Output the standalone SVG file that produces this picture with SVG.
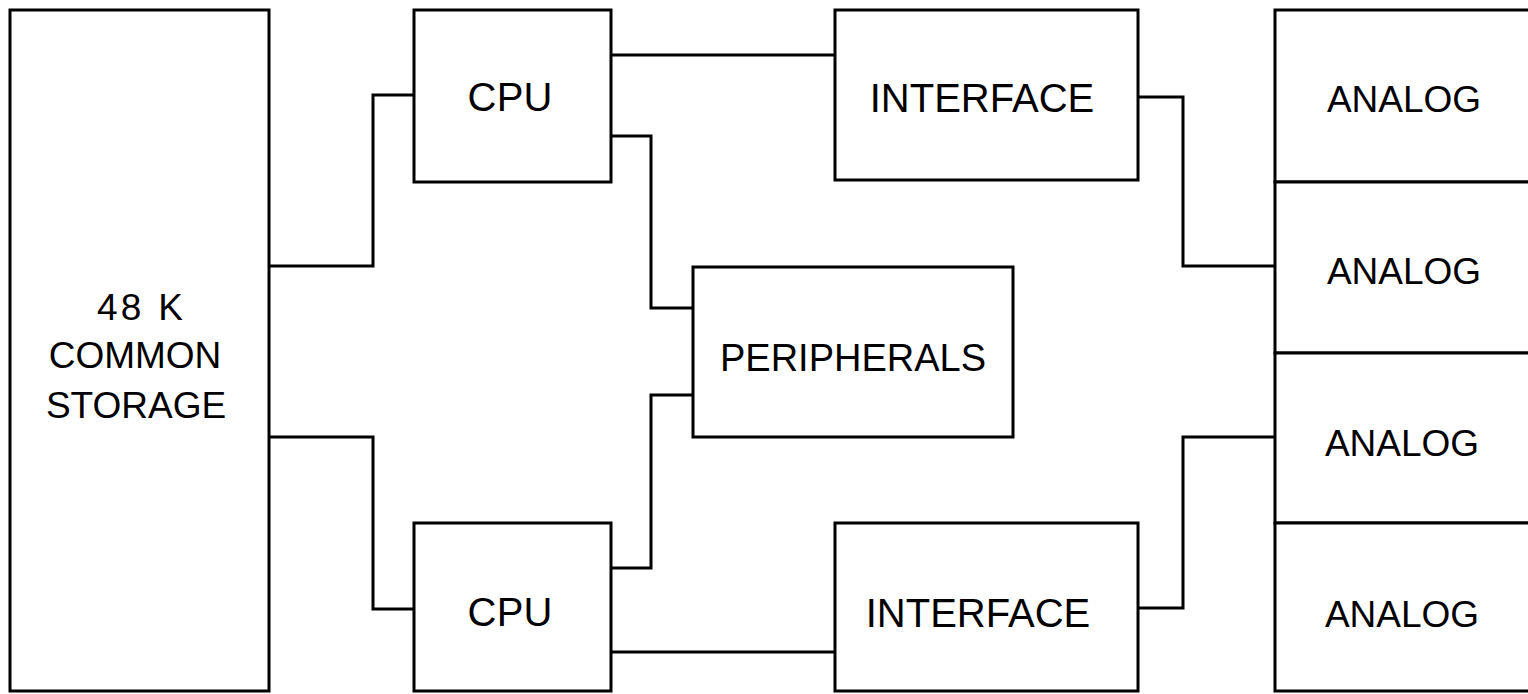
<svg xmlns="http://www.w3.org/2000/svg" width="1528" height="694" viewBox="0 0 1528 694">
<style>
.box{fill:#fff;stroke:#000;stroke-width:3}
.ln{fill:none;stroke:#000;stroke-width:3;stroke-linejoin:miter}
.t{font-family:"Liberation Sans","DejaVu Sans",sans-serif;font-size:40px;fill:#000;text-anchor:middle}
.s{font-size:37px}
</style>
<rect width="1528" height="694" fill="#fff"/>
<g id="connectors">
<polyline class="ln" points="269,266 373,266 373,95 414,95"/>
<polyline class="ln" points="269,437 373,437 373,609 414,609"/>
<polyline class="ln" points="611,55 835,55"/>
<polyline class="ln" points="611,136 651,136 651,308 693,308"/>
<polyline class="ln" points="693,395 651,395 651,568 611,568"/>
<polyline class="ln" points="611,652 835,652"/>
<polyline class="ln" points="1138,97 1183,97 1183,266 1275,266"/>
<polyline class="ln" points="1138,608 1183,608 1183,437 1275,437"/>
</g>
<g id="storage">
<rect class="box" x="10" y="10" width="259" height="681"/>
<text class="t s" x="140" y="320" textLength="86">48 K</text>
<text class="t s" x="135" y="368">COMMON</text>
<text class="t s" x="136" y="418">STORAGE</text>
</g>
<g id="cpu1">
<rect class="box" x="414" y="10" width="197" height="172"/>
<text class="t" x="510" y="111" textLength="85">CPU</text>
</g>
<g id="cpu2">
<rect class="box" x="414" y="523" width="197" height="168"/>
<text class="t" x="510" y="626" textLength="85">CPU</text>
</g>
<g id="interface1">
<rect class="box" x="835" y="10" width="303" height="170"/>
<text class="t" x="982" y="112">INTERFACE</text>
</g>
<g id="interface2">
<rect class="box" x="835" y="523" width="303" height="168"/>
<text class="t" x="978" y="627">INTERFACE</text>
</g>
<g id="peripherals">
<rect class="box" x="693" y="267" width="320" height="170"/>
<text class="t" x="853" y="371" style="font-size:38px">PERIPHERALS</text>
</g>
<g id="analog1">
<rect class="box" x="1275" y="10" width="260" height="172"/>
<text class="t s" x="1404" y="112">ANALOG</text>
</g>
<g id="analog2">
<rect class="box" x="1275" y="182" width="260" height="171"/>
<text class="t s" x="1404" y="284">ANALOG</text>
</g>
<g id="analog3">
<rect class="box" x="1275" y="353" width="260" height="170"/>
<text class="t s" x="1402" y="456">ANALOG</text>
</g>
<g id="analog4">
<rect class="box" x="1275" y="523" width="260" height="168"/>
<text class="t s" x="1402" y="627">ANALOG</text>
</g>
</svg>
